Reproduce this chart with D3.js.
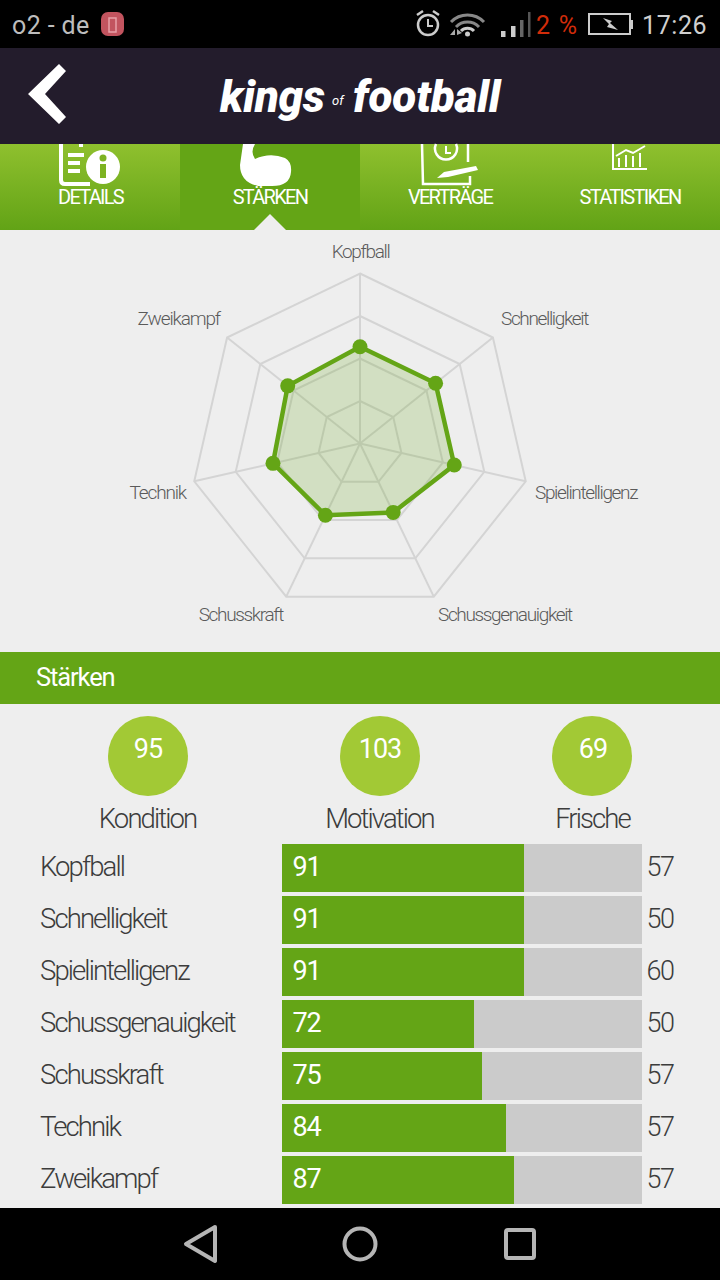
<!DOCTYPE html>
<html><head><meta charset="utf-8">
<script src="https://cdnjs.cloudflare.com/ajax/libs/d3/7.8.5/d3.min.js"></script>
<style>html,body{margin:0;padding:0;background:#eee}svg{display:block}text{font-family:Roboto,sans-serif}</style>
</head><body><svg id="c" width="720" height="1280"></svg>
<script>
const skills=["Kopfball","Schnelligkeit","Spielintelligenz","Schussgenauigkeit","Schusskraft","Technik","Zweikampf"];
const skillValues=[91,91,91,72,75,84,87];
const sideValues=[57,50,60,50,57,57,57];
const gaugeLabels=["Kondition","Motivation","Frische"];
const gaugeValues=[95,103,69];
const tabs=["DETAILS","STÄRKEN","VERTRÄGE","STATISTIKEN"];
const ringLevels=[40,80,120,160];

const svg=d3.select("#c");
const G="#64a516";
svg.append("rect").attr("width",720).attr("height",1280).attr("fill","#eeeeee");
const defs=svg.append("defs");
const gr=defs.append("linearGradient").attr("id","tabg").attr("x1",0).attr("x2",0).attr("y1",0).attr("y2",1);
gr.append("stop").attr("offset",0).attr("stop-color","#8fc02e");
gr.append("stop").attr("offset",1).attr("stop-color","#62a316");
const txt=(p,s,x,y,size,fill,o={})=>p.append("text").text(s).attr("x",x).attr("y",y)
  .attr("font-size",size).attr("fill",fill).attr("font-weight",o.w||300)
  .attr("letter-spacing",o.ls==null?-1:o.ls).attr("text-anchor",o.a||"start");

// status bar
const st=svg.append("g");
st.append("rect").attr("width",720).attr("height",48).attr("fill","#000");
txt(st,"o2 - de",12,34,25,"#bdbdbd",{w:400,ls:0.4});
st.append("rect").attr("x",101).attr("y",12).attr("width",23).attr("height",24).attr("rx",7).attr("fill","#c2545f");
st.append("rect").attr("x",109).attr("y",18).attr("width",7).attr("height",14).attr("fill","none").attr("stroke","#e8a0a8").attr("stroke-width",1.5);
st.append("circle").attr("cx",428).attr("cy",25).attr("r",10).attr("fill","none").attr("stroke","#ccc").attr("stroke-width",2.5);
st.append("path").attr("d","M428 19V26H433").attr("fill","none").attr("stroke","#ccc").attr("stroke-width",2);
st.append("path").attr("d","M417 15L423 11M439 15L433 11").attr("stroke","#ccc").attr("stroke-width",2.5);
st.append("path").attr("d","M451 22A23 23 0 0 1 484 22M456 27A16 16 0 0 1 479 27").attr("fill","none").attr("stroke","#888").attr("stroke-width",3);
st.append("path").attr("d","M461 31A9 9 0 0 1 474 31").attr("fill","none").attr("stroke","#ccc").attr("stroke-width",3);
st.append("circle").attr("cx",467.5).attr("cy",34).attr("r",2.5).attr("fill","#ccc");
st.append("path").attr("d","M450 35L455 29V35ZM457 29L462 33L457 35Z").attr("fill","#aaa");
[[501,31,6,4.5,"#ccc"],[511,26,11,4.5,"#ccc"],[520,20,17,3.5,"#666"],[528,12,25,2.5,"#555"]].forEach(d=>st.append("rect").attr("x",d[0]).attr("y",d[1]).attr("width",d[3]).attr("height",d[2]).attr("fill",d[4]));
txt(st,"2 %",536,34,25,"#d12c0a",{w:400,ls:1.3});
st.append("rect").attr("x",589).attr("y",14).attr("width",41).attr("height",20).attr("fill","none").attr("stroke","#ccc").attr("stroke-width",2);
st.append("rect").attr("x",630).attr("y",20).attr("width",3).attr("height",9).attr("fill","#ccc");
st.append("path").attr("d","M603 18L612 21L610 23L618 30L607 27L609 24Z").attr("fill","#ccc");
txt(st,"17:26",642,34,25,"#cfcfcf",{w:400,ls:0.6});

// header
const hd=svg.append("g");
hd.append("rect").attr("y",48).attr("width",720).attr("height",96).attr("fill","#231c2c");
hd.append("path").attr("d","M59 64L66 71L45 94L66 117L59 124L28 94Z").attr("fill","#fff");
txt(hd,"kings",220,112,44,"#fff",{w:900,ls:-0.2}).attr("font-style","italic");
txt(hd,"of",332,105,13,"#fff",{w:400,ls:0}).attr("font-style","italic");
txt(hd,"football",353,112,44,"#fff",{w:900,ls:-0.1}).attr("font-style","italic");

// tabs
const tabX=d3.scaleBand().domain(tabs).range([0,720]);
svg.append("rect").attr("y",144).attr("width",720).attr("height",86).attr("fill","url(#tabg)");
svg.append("rect").attr("x",tabX("STÄRKEN")).attr("y",144).attr("width",tabX.bandwidth()).attr("height",86).attr("fill",G);
svg.append("path").attr("d","M254 230L270 214L286 230Z").attr("fill","#eee");
const ic=svg.append("g");
ic.append("path").attr("d","M61 144V180Q61 184 65 184H90M81 144V147").attr("fill","none").attr("stroke","#fff").attr("stroke-width",4);
ic.append("path").attr("d","M68 155H84M68 163H80M68 171H80").attr("stroke","#fff").attr("stroke-width",4);
ic.append("circle").attr("cx",103).attr("cy",167).attr("r",17).attr("fill","#fff");
ic.append("rect").attr("x",100).attr("y",164).attr("width",6).attr("height",14).attr("fill","#7db322");
ic.append("circle").attr("cx",103).attr("cy",158).attr("r",3.5).attr("fill","#7db322");
ic.append("path").attr("d","M243 144H255Q250 152 255 159Q270 152 285 158Q292 162 291 172Q290 186 272 186H258Q240 182 240 165Z").attr("fill","#fff");
ic.append("path").attr("d","M422 144L423 184H470V176M468 144V162").attr("fill","none").attr("stroke","#fff").attr("stroke-width",2.5);
ic.append("path").attr("d","M436 144A11 11 0 1 0 456 144").attr("fill","none").attr("stroke","#fff").attr("stroke-width",2.5);
ic.append("path").attr("d","M446 146V153H451").attr("fill","none").attr("stroke","#fff").attr("stroke-width",2);
ic.append("path").attr("d","M437 178L444 172L476 166L478 170L448 177Z").attr("fill","#fff");
ic.append("path").attr("d","M613 144V169H647M619 167V158M626 167V155M633 167V156M640 167V153M616 156L626 150L633 153L645 146").attr("fill","none").attr("stroke","#fff").attr("stroke-width",2);
tabs.forEach(t=>txt(svg,t,tabX(t)+tabX.bandwidth()/2+(t==="DETAILS"?0.5:0),203.5,20,"#fff",{a:"middle",ls:-1.7,w:400}));

// radar
const cx=360,cy=443.5;
const r=d3.scaleLinear().domain([0,160]).range([0,170]);
const ang=d3.scalePoint().domain(skills).range([0,2*Math.PI*6/7]);
const px=(s,v)=>[cx+r(v)*Math.sin(ang(s)),cy-r(v)*Math.cos(ang(s))];
const radial=d3.line();
const rad=svg.append("g");
ringLevels.forEach(l=>rad.append("path").attr("d",radial(skills.map(s=>px(s,l)))+"Z").attr("fill","none").attr("stroke","#d4d4d4").attr("stroke-width",2));
skills.forEach(s=>{const p=px(s,160);rad.append("line").attr("x1",cx).attr("y1",cy).attr("x2",p[0]).attr("y2",p[1]).attr("stroke","#d4d4d4").attr("stroke-width",2);});
const pts=skills.map((s,i)=>px(s,skillValues[i]));
rad.append("path").attr("d",radial(pts)+"Z").attr("fill",G).attr("fill-opacity",0.2).attr("stroke",G).attr("stroke-width",4.5);
pts.forEach(p=>rad.append("circle").attr("cx",p[0]).attr("cy",p[1]).attr("r",7.5).attr("fill",G));
const labelPos=[[360.5,258,"middle"],[501,325,"start"],[535,499,"start"],[438,621,"start"],[283,621,"end"],[186,499,"end"],[220,325,"end"]];
skills.forEach((s,i)=>txt(rad,s,labelPos[i][0],labelPos[i][1],19,"#5a5a5a",{a:labelPos[i][2],ls:i===5||i===6?-1.15:-1.35}));

// section header
svg.append("rect").attr("y",652).attr("width",720).attr("height",52).attr("fill",G);
txt(svg,"Stärken",36,686,25.5,"#fff",{ls:-1.1,w:400});

// gauges
const gx=d3.scaleOrdinal().domain(gaugeLabels).range([148,380,592]);
gaugeLabels.forEach((g,i)=>{
  svg.append("circle").attr("cx",gx(g)).attr("cy",756).attr("r",40).attr("fill","#a2c935");
  txt(svg,gaugeValues[i],gx(g)+(i===2?1:0),758,27,"#fff",{a:"middle",ls:-1,w:400});
  txt(svg,g,gx(g)+(i===2?0.5:-0.5),828,27.5,"#3c3c3c",{a:"middle",ls:-1.9});
});

// bars
const x=d3.scaleLinear().domain([0,135]).range([282,642]);
const w=v=>Math.floor(x(v)-x(0)+1e-6);
const y=d3.scaleBand().domain(skills).range([842,1206]).paddingInner(4/52).paddingOuter(2/52);
skills.forEach((s,i)=>{
  const t=y(s),h=y.bandwidth(),mid=t+h/2+7.5;
  svg.append("rect").attr("x",x(0)).attr("y",t).attr("width",x(135)-x(0)).attr("height",h).attr("fill","#cbcbcb");
  svg.append("rect").attr("x",x(0)).attr("y",t).attr("width",w(skillValues[i])).attr("height",h).attr("fill",G);
  txt(svg,s,40,mid,27.5,"#3c3c3c",{ls:-1.9});
  txt(svg,skillValues[i],292.5,mid,27,"#fff",{ls:-1.2,w:400});
  txt(svg,sideValues[i],646.5,mid,27,"#3c3c3c",{ls:-1.4});
});

// nav bar
const nav=svg.append("g");
nav.append("rect").attr("y",1208).attr("width",720).attr("height",72).attr("fill","#000");
nav.append("path").attr("d","M215 1227L186 1244L215 1261Z").attr("fill","none").attr("stroke","#b5b5b5").attr("stroke-width",4).attr("stroke-linejoin","round");
nav.append("circle").attr("cx",360).attr("cy",1244).attr("r",15.5).attr("fill","none").attr("stroke","#b5b5b5").attr("stroke-width",4);
nav.append("rect").attr("x",506).attr("y",1230).attr("width",28).attr("height",28).attr("rx",2).attr("fill","none").attr("stroke","#b5b5b5").attr("stroke-width",4);
</script></body></html>
